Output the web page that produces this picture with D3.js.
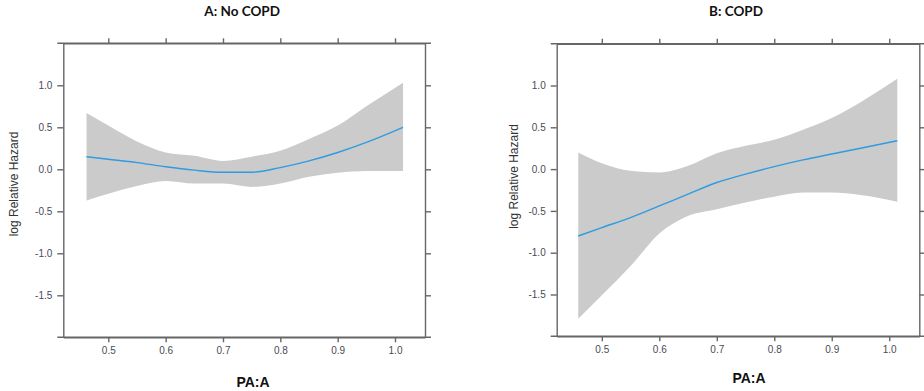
<!DOCTYPE html>
<html>
<head>
<meta charset="utf-8">
<script src="https://cdn.jsdelivr.net/npm/d3@7"></script>
<style>
  body { margin: 0; background: #fff; }
  svg { display: block; }
  .tick text { font-family: "Liberation Sans", Arial, sans-serif; font-size: 10px; fill: #4a4a55; }
  .tick line, .domain { stroke: #666; stroke-width: 1.4; }
</style>
</head>
<body>
<svg id="chart" width="924" height="391"></svg>
<script>
// spline fit of log relative hazard vs PA:A
var titles = ['A: No COPD', 'B: COPD'];
var xTicks = [0.5, 0.6, 0.7, 0.8, 0.9, 1.0];
var yTicks = [-1.5, -1.0, -0.5, 0.0, 0.5, 1.0];

var paA    = [0.462, 0.50, 0.55, 0.60, 0.65, 0.70, 0.75, 0.80, 0.85, 0.90, 0.95, 1.014];
var fitA   = [0.15, 0.12, 0.08, 0.03, -0.01, -0.035, -0.035, 0.02, 0.10, 0.20, 0.32, 0.50];
var upperA = [0.67, 0.52, 0.33, 0.20, 0.16, 0.10, 0.15, 0.22, 0.36, 0.52, 0.75, 1.03];
var lowerA = [-0.37, -0.29, -0.20, -0.14, -0.17, -0.17, -0.21, -0.17, -0.09, -0.04, -0.02, -0.02];

var paB    = [0.459, 0.50, 0.55, 0.60, 0.65, 0.70, 0.75, 0.80, 0.85, 0.90, 0.95, 1.014];
var fitB   = [-0.80, -0.70, -0.58, -0.44, -0.30, -0.16, -0.06, 0.03, 0.11, 0.18, 0.25, 0.34];
var upperB = [0.20, 0.07, -0.02, -0.04, 0.04, 0.19, 0.28, 0.35, 0.47, 0.61, 0.80, 1.08];
var lowerB = [-1.79, -1.51, -1.16, -0.77, -0.56, -0.48, -0.40, -0.33, -0.28, -0.28, -0.31, -0.39];

var svg = d3.select('#chart');

var panels = [
  { title: titles[0], x: paA, fit: fitA, hi: upperA, lo: lowerA,
    left: 63.3, right: 425, top: 43.3, bottom: 337.3, ylabY: 184, ylabX: 18, xlabX: 253, xlabY: 386.5 },
  { title: titles[1], x: paB, fit: fitB, hi: upperB, lo: lowerB,
    left: 556.7, right: 919.3, top: 43.7, bottom: 336.3, ylabY: 176.5, ylabX: 517.5, xlabX: 749, xlabY: 383 }
];

// plain hyphen minus like the original plot
var fmt = function(d) { return d3.format('.1f')(d).replace('\u2212', '-'); };

panels.forEach(function(p) {
  var x = d3.scaleLinear().domain([0.4215, 1.0523]).range([p.left, p.right]);
  var y = d3.scaleLinear().domain([-2.0, 1.5]).range([p.bottom, p.top]);
  var g = svg.append('g');

  var rows = p.x.map(function(v, i) { return { x: v, fit: p.fit[i], hi: p.hi[i], lo: p.lo[i] }; });

  g.append('path')
    .datum(rows)
    .attr('fill', '#cbcbcb')
    .attr('d', d3.area().curve(d3.curveMonotoneX)
      .x(function(d) { return x(d.x); })
      .y0(function(d) { return y(d.lo); })
      .y1(function(d) { return y(d.hi); }));

  g.append('path')
    .datum(rows)
    .attr('fill', 'none')
    .attr('stroke', '#2f9be0')
    .attr('stroke-width', 1.4)
    .attr('d', d3.line().curve(d3.curveMonotoneX)
      .x(function(d) { return x(d.x); })
      .y(function(d) { return y(d.fit); }));

  // lattice style box: four axes, labels only bottom/left
  g.append('g').attr('transform', 'translate(0,' + p.bottom + ')')
    .call(d3.axisBottom(x).tickValues(xTicks).tickFormat(fmt).tickSize(5).tickSizeOuter(0).tickPadding(5));
  g.append('g').attr('transform', 'translate(0,' + p.top + ')')
    .call(d3.axisTop(x).tickValues(xTicks).tickFormat('').tickSize(5).tickSizeOuter(0));
  g.append('g').attr('transform', 'translate(' + p.left + ',0)')
    .call(d3.axisLeft(y).tickValues(yTicks).tickFormat(fmt).tickSize(6).tickSizeOuter(0).tickPadding(5));
  g.append('g').attr('transform', 'translate(' + p.right + ',0)')
    .call(d3.axisRight(y).tickValues(yTicks).tickFormat('').tickSize(6).tickSizeOuter(0));

  // horizontal frame lines run past the corners
  [p.top, p.bottom].forEach(function(yy) {
    g.append('line')
      .attr('x1', p.left - 6).attr('x2', Math.min(p.right + 6, 924))
      .attr('y1', yy).attr('y2', yy)
      .attr('stroke', '#666').attr('stroke-width', 1.4);
  });

  g.selectAll('.tick text').attr('fill', '#4a4a55');

  svg.append('text')
    .attr('x', (p.left + p.right) / 2 - 2).attr('y', 16)
    .attr('text-anchor', 'middle')
    .style('font-family', 'Lato, "Open Sans", sans-serif')
    .style('font-weight', 'bold').style('font-size', '13.5px')
    .attr('fill', '#111')
    .text(p.title);

  svg.append('text')
    .attr('x', p.xlabX).attr('y', p.xlabY)
    .attr('text-anchor', 'middle')
    .style('font-family', '"Liberation Sans", Arial, sans-serif')
    .style('font-weight', 'bold').style('font-size', '14px')
    .attr('fill', '#111')
    .text('PA:A');

  svg.append('text')
    .attr('transform', 'translate(' + p.ylabX + ',' + p.ylabY + ') rotate(-90)')
    .attr('text-anchor', 'middle')
    .style('font-family', '"Liberation Sans", Arial, sans-serif')
    .style('font-size', '12px')
    .attr('fill', '#333')
    .text('log Relative Hazard');
});
</script>
</body>
</html>
